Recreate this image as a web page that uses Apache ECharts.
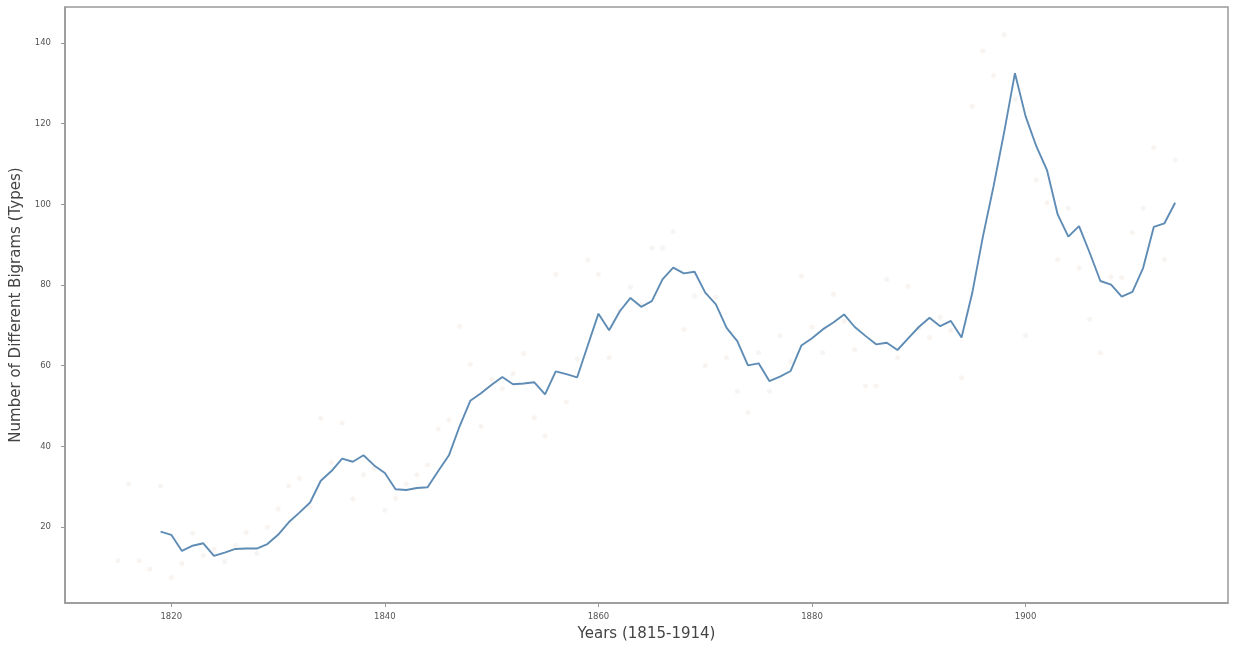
<!DOCTYPE html>
<html>
<head>
<meta charset="utf-8">
<script src="https://cdn.jsdelivr.net/npm/echarts@6/dist/echarts.min.js"></script>
<style>
  html, body { margin: 0; padding: 0; background: #ffffff; }
  #chart { width: 1238px; height: 647px; }
</style>
</head>
<body>
<div id="chart"></div>
<script>
// Yearly number of different bigrams (types), 1815-1914
const firstYear = 1815;
const yearlyTypes = [
  11.7, 30.6, 11.7, 9.6, 30.2, 7.5, 11.0, 18.5, 13.0, 14.5,
  11.5, 15.5, 18.7, 13.5, 20.0, 24.5, 30.2, 32.1, 25.0, 47.0,
  36.0, 45.8, 27.0, 33.0, 34.4, 24.2, 27.1, 30.7, 33.0, 35.4,
  44.3, 46.6, 69.8, 60.3, 45.0, 56.6, 54.3, 58.0, 63.0, 47.1,
  42.6, 82.6, 51.0, 61.7, 86.2, 82.6, 62.0, 73.7, 79.5, 75.2,
  89.2, 89.2, 93.2, 69.0, 77.3, 60.0, 77.0, 62.0, 53.7, 48.4,
  63.2, 53.7, 67.4, 61.0, 82.2, 69.6, 63.2, 77.7, 71.0, 64.0,
  55.0, 55.0, 81.4, 62.0, 79.7, 69.3, 67.0, 72.0, 68.7, 57.0,
  124.3, 138.0, 132.0, 142.0, 126.0, 67.4, 106.0, 100.4, 86.3, 99.0,
  84.3, 71.5, 63.2, 82.0, 81.8, 93.0, 99.0, 114.1, 86.3, 111.0
];

// Five-year moving average, first value at 1819
const avgFirstYear = 1819;
const movingAvg = [
  18.9, 18.1, 14.1, 15.4, 16.0, 12.9, 13.7, 14.6, 14.7, 14.7,
  15.8, 18.1, 21.2, 23.6, 26.1, 31.5, 33.9, 37.0, 36.2, 37.8,
  35.3, 33.4, 29.4, 29.2, 29.7, 29.9, 33.9, 37.8, 45.0, 51.3,
  53.2, 55.3, 57.2, 55.4, 55.6, 55.9, 52.9, 58.6, 57.9, 57.1,
  65.0, 72.9, 68.8, 73.5, 76.8, 74.6, 76.0, 81.4, 84.3, 82.9,
  83.3, 78.1, 75.2, 69.4, 66.1, 60.1, 60.6, 56.2, 57.3, 58.7,
  65.0, 66.8, 69.0, 70.7, 72.7, 69.6, 67.4, 65.3, 65.7, 63.9,
  66.8, 69.6, 71.9, 69.8, 71.1, 67.0, 78.0, 92.0, 104.5, 118.0,
  132.5, 121.8, 114.4, 108.5, 97.5, 92.0, 94.6, 88.0, 81.0, 80.1,
  77.1, 78.3, 84.2, 94.4, 95.3, 100.4
];

const xTicks = [1820, 1840, 1860, 1880, 1900];
const yTicks = [20, 40, 60, 80, 100, 120, 140];

const xTitle = 'Years (1815-1914)';
const yTitle = 'Number of Different Bigrams (Types)';

const scatterData = yearlyTypes.map((v, i) => [firstYear + i, v]);
const lineData = movingAvg.map((v, i) => [avgFirstYear + i, v]);

const axisGrey = '#999999';
const labelGrey = '#555555';
const font = 'DejaVu Sans, sans-serif';

const chart = echarts.init(document.getElementById('chart'), null, { renderer: 'canvas' });
chart.setOption({
  animation: false,
  backgroundColor: '#ffffff',
  grid: {
    left: 65, right: 10, top: 7, bottom: 43,
    show: true, borderColor: axisGrey, borderWidth: 1.5, backgroundColor: '#ffffff'
  },
  xAxis: {
    type: 'value',
    min: 1810.05,
    max: 1918.95,
    name: xTitle,
    nameLocation: 'middle',
    nameGap: 24,
    nameTextStyle: { fontFamily: font, fontSize: 15, color: '#444444' },
    axisLine: { show: true, lineStyle: { color: axisGrey, width: 1.5 } },
    axisTick: { show: true, length: 4, customValues: xTicks, lineStyle: { color: axisGrey } },
    axisLabel: {
      customValues: xTicks, margin: 9, fontFamily: font, fontSize: 8.5, color: labelGrey,
      formatter: v => String(v)
    },
    splitLine: { show: false }
  },
  yAxis: {
    type: 'value',
    min: 1.2,
    max: 148.9,
    name: yTitle,
    nameLocation: 'middle',
    nameGap: 37,
    nameTextStyle: { fontFamily: font, fontSize: 15, color: '#444444' },
    axisLine: { show: true, lineStyle: { color: axisGrey, width: 1.5 } },
    axisTick: { show: true, length: 4, customValues: yTicks, lineStyle: { color: axisGrey } },
    axisLabel: {
      customValues: yTicks, margin: 14, fontFamily: font, fontSize: 8.5, color: labelGrey,
      formatter: v => String(v)
    },
    splitLine: { show: false }
  },
  series: [
    {
      // raw yearly counts, drawn very faintly behind the average
      type: 'scatter',
      data: scatterData,
      symbol: 'circle',
      symbolSize: 5,
      itemStyle: { color: 'rgba(215, 190, 175, 0.22)' },
      silent: true,
      z: 1
    },
    {
      type: 'line',
      data: lineData,
      showSymbol: false,
      lineStyle: { color: '#5e8cb5', width: 1.9 },
      silent: true,
      z: 2
    }
  ]
});
</script>
</body>
</html>
